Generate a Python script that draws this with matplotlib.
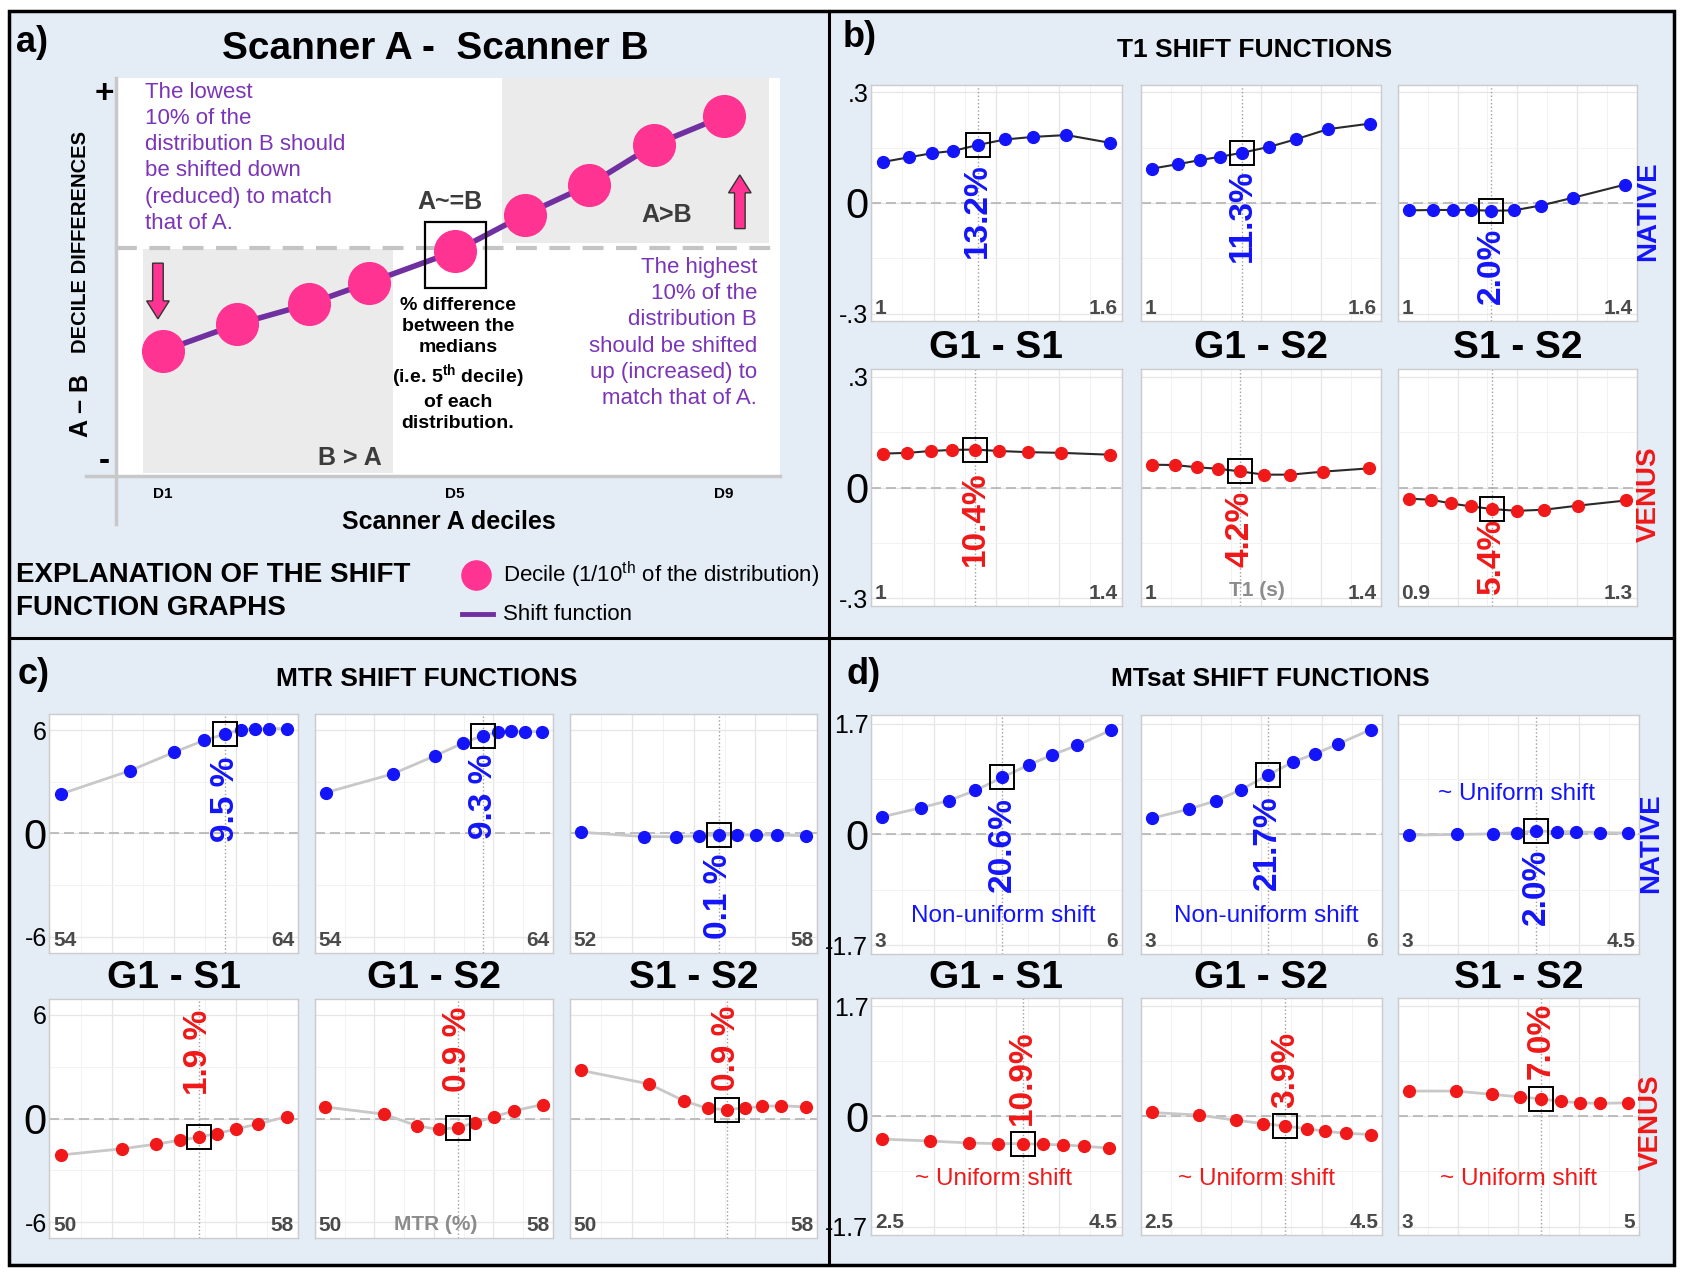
import matplotlib
matplotlib.use('Agg')
import numpy as np
import matplotlib.pyplot as plt
from matplotlib import font_manager
from matplotlib.patches import Rectangle, FancyArrow
from matplotlib.lines import Line2D
from matplotlib.transforms import blended_transform_factory

names = {f.name for f in font_manager.fontManager.ttflist}
NARROW = 'Liberation Sans Narrow' if 'Liberation Sans Narrow' in names else 'Liberation Sans'
plt.rcParams['font.family'] = ['Liberation Sans', 'DejaVu Sans']
plt.rcParams['mathtext.fontset'] = 'custom'
plt.rcParams['mathtext.rm'] = 'Liberation Sans'
plt.rcParams['mathtext.bf'] = 'Liberation Sans:bold'
plt.rcParams['mathtext.it'] = 'Liberation Sans:italic'

# ---------------- data ----------------
# panel a: schematic shift function (decile positions, arbitrary units)
dec_x = [7.0, 18.2, 29.0, 38.1, 51.1, 61.6, 71.3, 81.0, 91.6]
dec_y = [31.4, 38.1, 43.2, 48.6, 56.5, 65.7, 73.2, 83.2, 90.5]
dec_ticks = ['D1', 'D5', 'D9']

pairs = ['G1 - S1', 'G1 - S2', 'S1 - S2']
groups = ['NATIVE', 'VENUS']

# order of the 6 plots: NATIVE G1-S1, G1-S2, S1-S2, VENUS G1-S1, G1-S2, S1-S2
t1_x = [[1.028, 1.092, 1.147, 1.197, 1.255, 1.321, 1.388, 1.468, 1.572],
        [1.027, 1.092, 1.147, 1.197, 1.253, 1.321, 1.389, 1.468, 1.573],
        [1.018, 1.059, 1.092, 1.122, 1.156, 1.194, 1.239, 1.293, 1.381],
        [1.019, 1.058, 1.095, 1.129, 1.166, 1.205, 1.250, 1.304, 1.382],
        [1.018, 1.057, 1.093, 1.128, 1.165, 1.205, 1.249, 1.303, 1.380],
        [0.918, 0.956, 0.989, 1.022, 1.057, 1.099, 1.145, 1.201, 1.282]]
t1_y = [[0.111, 0.124, 0.135, 0.141, 0.157, 0.172, 0.179, 0.184, 0.163],
        [0.093, 0.105, 0.116, 0.125, 0.136, 0.152, 0.173, 0.200, 0.215],
        [-0.020, -0.019, -0.019, -0.019, -0.021, -0.020, -0.007, 0.014, 0.050],
        [0.092, 0.094, 0.099, 0.102, 0.103, 0.099, 0.096, 0.094, 0.089],
        [0.062, 0.061, 0.055, 0.051, 0.044, 0.035, 0.035, 0.043, 0.052],
        [-0.030, -0.033, -0.043, -0.051, -0.058, -0.063, -0.060, -0.049, -0.035]]
t1_xlim = [(1, 1.6), (1, 1.6), (1, 1.4), (1, 1.4), (1, 1.4), (0.9, 1.3)]
t1_pct = ['13.2%', '11.3%', '2.0%', '10.4%', '4.2%', '5.4%']
t1_ytick = ['-.3', '0', '.3']

mtr_x = [[54.48, 57.25, 59.02, 60.21, 61.08, 61.71, 62.27, 62.83, 63.57],
         [54.45, 57.27, 59.03, 60.21, 61.07, 61.71, 62.25, 62.84, 63.55],
         [52.27, 53.80, 54.57, 55.13, 55.61, 56.05, 56.51, 57.02, 57.72],
         [50.36, 52.35, 53.44, 54.20, 54.80, 55.39, 56.01, 56.72, 57.65],
         [50.34, 52.33, 53.44, 54.16, 54.80, 55.39, 56.03, 56.71, 57.66],
         [50.37, 52.56, 53.70, 54.46, 55.07, 55.65, 56.21, 56.84, 57.63]]
mtr_y = [[2.30, 3.65, 4.72, 5.40, 5.78, 6.02, 6.07, 6.09, 6.09],
         [2.37, 3.46, 4.50, 5.24, 5.69, 5.88, 5.95, 5.92, 5.92],
         [0.07, -0.19, -0.19, -0.14, -0.09, -0.09, -0.09, -0.09, -0.14],
         [-2.11, -1.75, -1.48, -1.26, -1.08, -0.87, -0.61, -0.31, 0.11],
         [0.67, 0.25, -0.43, -0.63, -0.52, -0.25, 0.11, 0.45, 0.81],
         [2.78, 2.00, 1.01, 0.58, 0.52, 0.61, 0.70, 0.74, 0.67]]
mtr_xlim = [(54, 64), (54, 64), (52, 58), (50, 58), (50, 58), (50, 58)]
mtr_pct = ['9.5 %', '9.3 %', '0.1 %', '1.9 %', '0.9 %', '0.9 %']
mtr_ytick = ['-6', '0', '6']

mts_x = [[3.13, 3.60, 3.93, 4.25, 4.57, 4.89, 5.17, 5.47, 5.87],
         [3.14, 3.60, 3.94, 4.25, 4.58, 4.89, 5.17, 5.46, 5.86],
         [3.07, 3.37, 3.59, 3.74, 3.86, 3.99, 4.11, 4.26, 4.43],
         [2.59, 2.97, 3.28, 3.51, 3.71, 3.87, 4.03, 4.20, 4.40],
         [2.59, 2.98, 3.29, 3.51, 3.70, 3.88, 4.03, 4.20, 4.41],
         [3.09, 3.48, 3.78, 4.01, 4.19, 4.35, 4.51, 4.68, 4.91]]
mts_y = [[0.27, 0.41, 0.52, 0.675, 0.875, 1.07, 1.22, 1.37, 1.60],
         [0.25, 0.39, 0.52, 0.69, 0.91, 1.11, 1.24, 1.39, 1.61],
         [-0.01, 0.00, 0.01, 0.03, 0.05, 0.045, 0.04, 0.03, 0.02],
         [-0.35, -0.38, -0.41, -0.42, -0.42, -0.43, -0.44, -0.46, -0.49],
         [0.06, 0.02, -0.06, -0.11, -0.15, -0.19, -0.23, -0.26, -0.28],
         [0.39, 0.39, 0.34, 0.30, 0.27, 0.23, 0.21, 0.20, 0.21]]
mts_xlim = [(3, 6), (3, 6), (3, 4.5), (2.5, 4.5), (2.5, 4.5), (3, 5)]
mts_pct = ['20.6%', '21.7%', '2.0%', '10.9%', '3.9%', '7.0%']
mts_ytick = ['-1.7', '0', '1.7']
mts_notes = ['Non-uniform shift', 'Non-uniform shift', '~ Uniform shift',
             '~ Uniform shift', '~ Uniform shift', '~ Uniform shift']

# label positions (axes fraction, vertical)
t1_pct_pos = [0.468, 0.445, 0.232, 0.368, 0.327, 0.209]
mtr_pct_pos = [0.643, 0.655, 0.237, 0.778, 0.789, 0.795]
mts_pct_pos = [0.456, 0.467, 0.281, 0.662, 0.696, 0.816]
mts_note_pos = [(0.526, 0.16), (0.52, 0.16), (0.494, 0.668),
                (0.49, 0.237), (0.48, 0.237), (0.50, 0.237)]

# ---------------- styles ----------------
BG = '#E4ECF6'
PINK = '#FF3392'
PURPLE = '#7030A0'
PURPLE_TXT = '#7B35B8'
BLUE = '#1414FA'
RED = '#F01818'
GRAYTXT = '#3c3c3c'

W, H = 1566.0, 1190.0   # placement grid of the reference


def fx(x):
    return x / W


def fy(y):
    return 1 - y / H


fig = plt.figure(figsize=(16.84, 12.78), dpi=100)

# background + frame
fig.patches.append(Rectangle((fx(8), fy(1178)), fx(1557) - fx(8), fy(10) - fy(1178),
                             transform=fig.transFigure, facecolor=BG, edgecolor='none', zorder=-10))
fig.patches.append(Rectangle((fx(8), fy(1178)), fx(1557) - fx(8), fy(10) - fy(1178),
                             transform=fig.transFigure, facecolor='none', edgecolor='black',
                             lw=2.5, zorder=-5))
fig.lines.append(Line2D([fx(771), fx(771)], [fy(10), fy(1178)], transform=fig.transFigure,
                        color='black', lw=2.2, zorder=-5))
fig.lines.append(Line2D([fx(8), fx(1557)], [fy(594), fy(594)], transform=fig.transFigure,
                        color='black', lw=2.2, zorder=-5))


def ftext(x, y, s, **kw):
    kw.setdefault('ha', 'center')
    kw.setdefault('va', 'center')
    return fig.text(fx(x), fy(y), s, **kw)


# ---------------- panel a ----------------
ftext(15, 40, 'a)', ha='left', fontsize=26, fontweight='bold')
ftext(405, 46, 'Scanner A -  Scanner B', fontsize=28, fontweight='bold')

axa = fig.add_axes([fx(108), fy(443), (725 - 108) / W, (443 - 73) / H])
axa.set_xlim(0, 100)
axa.set_ylim(0, 100)
axa.axis('off')
axa.add_patch(Rectangle((0, 0), 100, 100, facecolor='white', edgecolor='none', zorder=0))
axa.add_patch(Rectangle((4.1, 0.8), 37.6, 56.2, facecolor='#EBEBEB', edgecolor='none', zorder=1))
axa.add_patch(Rectangle((58.2, 58.6), 40.2, 41.4, facecolor='#EBEBEB', edgecolor='none', zorder=1))
axa.axhline(57.3, color='#C4C4C4', ls=(0, (5, 3)), lw=3, zorder=2)
axa.plot([-4.5, 100], [0, 0], color='#C8C8C8', lw=2.5, clip_on=False, zorder=2)
axa.plot([0, 0], [-12.2, 100], color='#C8C8C8', lw=2.5, clip_on=False, zorder=2)
axa.plot(dec_x, dec_y, color=PURPLE, lw=4, zorder=3)
axa.plot(dec_x, dec_y, 'o', ms=30, color=PINK, zorder=4)
axa.add_patch(Rectangle((dec_x[4] - 4.6, dec_y[4] - 9.2), 9.2, 16.5, facecolor='none',
                        edgecolor='black', lw=1.6, zorder=5))
axa.add_patch(FancyArrow(6.3, 53.5, 0, -14, width=1.6, head_width=3.4, head_length=4.5,
                         length_includes_head=True, fc=PINK, ec='#333333', lw=1, zorder=5))
axa.add_patch(FancyArrow(94.0, 62.2, 0, 13.5, width=1.6, head_width=3.4, head_length=4.5,
                         length_includes_head=True, fc=PINK, ec='#333333', lw=1, zorder=5))
for lab, xi in zip(dec_ticks, [dec_x[0], dec_x[4], dec_x[8]]):
    axa.text(xi, -4.6, lab, ha='center', va='center', fontsize=11, fontweight='bold',
             clip_on=False)

ftext(97, 88, '+', fontsize=24, fontweight='bold')
ftext(97, 430, '-', fontsize=24, fontweight='bold')
ftext(75, 378, 'A – B', rotation=90, fontsize=18, fontweight='bold')
ftext(75, 225, 'DECILE DIFFERENCES', rotation=90, fontsize=14.5, fontweight='bold')
ftext(417, 486, 'Scanner A deciles', fontsize=18, fontweight='bold')

ftext(135, 76, 'The lowest\n10% of the\ndistribution B should\nbe shifted down\n'
      '(reduced) to match\nthat of A.', ha='left', va='top', fontsize=16,
      color=PURPLE_TXT, linespacing=1.33)
ftext(704, 239, 'The highest\n10% of the\ndistribution B\nshould be shifted\n'
      'up (increased) to\nmatch that of A.', ha='right', va='top', fontsize=16,
      color=PURPLE_TXT, linespacing=1.33, multialignment='right')
ftext(426, 277, '% difference\nbetween the\nmedians\n(i.e. 5$^{\\mathbf{th}}$ decile)\n'
      'of each\ndistribution.', va='top', fontsize=14, fontweight='bold', linespacing=1.3)
ftext(418, 188, 'A~=B', fontsize=18, fontweight='bold', color=GRAYTXT)
ftext(620, 200, 'A>B', fontsize=18, fontweight='bold', color=GRAYTXT)
ftext(325, 426, 'B > A', fontsize=18, fontweight='bold', color=GRAYTXT)

ftext(15, 551, 'EXPLANATION OF THE SHIFT\nFUNCTION GRAPHS', ha='left', fontsize=20,
      fontweight='bold', linespacing=1.35)
axa.plot([(443 - 108) / 6.17], [(443 - 535) / 3.7], 'o', ms=21, color=PINK, clip_on=False)
axa.plot([(430 - 108) / 6.17, (458 - 108) / 6.17], [(443 - 572) / 3.7] * 2, color=PURPLE,
         lw=3.5, clip_on=False)
ftext(468, 535, 'Decile (1/10$^{\\rm th}$ of the distribution)', ha='left', fontsize=16)
ftext(468, 572, 'Shift function', ha='left', fontsize=16)


# ---------------- shift function panels ----------------
def shift_panel(cols, rows_y, xs, ys, xlims, pcts, pct_pos, ylim, yt, ytick_lab,
                line_col, line_w, notes=None, note_pos=None):
    axes = []
    for i in range(6):
        r, c = divmod(i, 3)
        x0, x1 = cols[c]
        y0, y1 = rows_y[r]
        ax = fig.add_axes([fx(x0), fy(y1), (x1 - x0) / W, (y1 - y0) / H])
        ax.set_facecolor('white')
        xl = xlims[i]
        ax.set_xlim(*xl)
        ax.set_ylim(-ylim, ylim)
        ax.set_xticks(np.linspace(xl[0], xl[1], 5))
        ax.set_xticks(np.linspace(xl[0], xl[1], 9), minor=True)
        ax.set_yticks([-yt, 0, yt])
        ax.set_yticks([-yt / 2, yt / 2], minor=True)
        ax.grid(which='major', color='#E6E6E6', lw=0.9)
        ax.grid(which='minor', color='#F2F2F2', lw=0.7)
        ax.set_axisbelow(True)
        ax.tick_params(which='both', length=0, labelbottom=False, labelleft=False)
        for s in ax.spines.values():
            s.set_color('#CCCCCC')
            s.set_linewidth(1)
        if c == 0:
            ax.set_yticklabels(ytick_lab)
            ax.tick_params(labelleft=True, pad=2)
            for lbl, fs in zip(ax.get_yticklabels(), [18, 30, 18]):
                lbl.set_fontsize(fs)
        col = BLUE if r == 0 else RED
        ax.axhline(0, color='#B4B4B4', ls=(0, (6, 3)), lw=1.2, zorder=1)
        ax.axvline(xs[i][4], color='#A0A0A0', ls=':', lw=1, zorder=1)
        ax.plot(xs[i], ys[i], color=line_col, lw=line_w, zorder=2)
        ax.plot(xs[i], ys[i], 'o', ms=8.5, color=col, mec=col, zorder=3)
        ax.plot([xs[i][4]], [ys[i][4]], 's', ms=17, mfc='none', mec='black', mew=1.4, zorder=4)
        tr = blended_transform_factory(ax.transData, ax.transAxes)
        ax.text(xs[i][4], pct_pos[i], pcts[i], transform=tr, rotation=90, ha='center',
                va='center', fontsize=24, fontweight='bold', color=col, zorder=5)
        ax.text(0.015, 0.012, f'{xl[0]:g}', transform=ax.transAxes, ha='left', va='bottom',
                fontsize=15, fontweight='bold', color='#4A4A4A', family=NARROW)
        ax.text(0.985, 0.012, f'{xl[1]:g}', transform=ax.transAxes, ha='right', va='bottom',
                fontsize=15, fontweight='bold', color='#4A4A4A', family=NARROW)
        if notes is not None:
            ax.text(note_pos[i][0], note_pos[i][1], notes[i], transform=ax.transAxes,
                    ha='center', va='center', fontsize=17.5, color=col, family=NARROW)
        axes.append(ax)
    return axes


# panel b : T1
ftext(784, 35, 'b)', ha='left', fontsize=26, fontweight='bold')
ftext(1167, 47, 'T1 SHIFT FUNCTIONS', fontsize=19, fontweight='bold')
b_cols = [(810, 1043), (1061, 1284), (1300, 1522)]
b_rows = [(79, 299), (344, 564)]
shift_panel(b_cols, b_rows, t1_x, t1_y, t1_xlim, t1_pct, t1_pct_pos, 0.32, 0.3, t1_ytick,
            '#2A2A2A', 1.5)
for p, (x0, x1) in zip(pairs, b_cols):
    ftext((x0 + x1) / 2, 324, p, fontsize=28, fontweight='bold')
ftext(1533, 197, groups[0], rotation=90, fontsize=20, fontweight='bold', color=BLUE)
ftext(1533, 460, groups[1], rotation=90, fontsize=20, fontweight='bold', color=RED)
ftext(1169, 550, 'T1 (s)', fontsize=15, fontweight='bold', color='#8C8C8C')

# panel c : MTR
ftext(16, 628, 'c)', ha='left', fontsize=26, fontweight='bold')
ftext(397, 632, 'MTR SHIFT FUNCTIONS', fontsize=19, fontweight='bold')
c_cols = [(46, 277), (293, 514), (530, 760)]
c_rows = [(665, 887), (930, 1153)]
shift_panel(c_cols, c_rows, mtr_x, mtr_y, mtr_xlim, mtr_pct, mtr_pct_pos, 6.93, 6, mtr_ytick,
            '#C8C8C8', 2)
for p, (x0, x1) in zip(pairs, c_cols):
    ftext((x0 + x1) / 2, 911, p, fontsize=28, fontweight='bold')
ftext(405, 1140, 'MTR (%)', fontsize=15, fontweight='bold', color='#8C8C8C')

# panel d : MTsat
ftext(787, 628, 'd)', ha='left', fontsize=26, fontweight='bold')
ftext(1181, 632, 'MTsat SHIFT FUNCTIONS', fontsize=19, fontweight='bold')
d_cols = [(810, 1043), (1061, 1285), (1300, 1524)]
d_rows = [(666, 888), (929, 1150)]
shift_panel(d_cols, d_rows, mts_x, mts_y, mts_xlim, mts_pct, mts_pct_pos, 1.83, 1.7, mts_ytick,
            '#C8C8C8', 2, notes=mts_notes, note_pos=mts_note_pos)
for p, (x0, x1) in zip(pairs, d_cols):
    ftext((x0 + x1) / 2, 911, p, fontsize=28, fontweight='bold')
ftext(1535, 785, groups[0], rotation=90, fontsize=20, fontweight='bold', color=BLUE)
ftext(1535, 1045, groups[1], rotation=90, fontsize=20, fontweight='bold', color=RED)

fig.savefig('out.png', dpi=100, facecolor='white')
